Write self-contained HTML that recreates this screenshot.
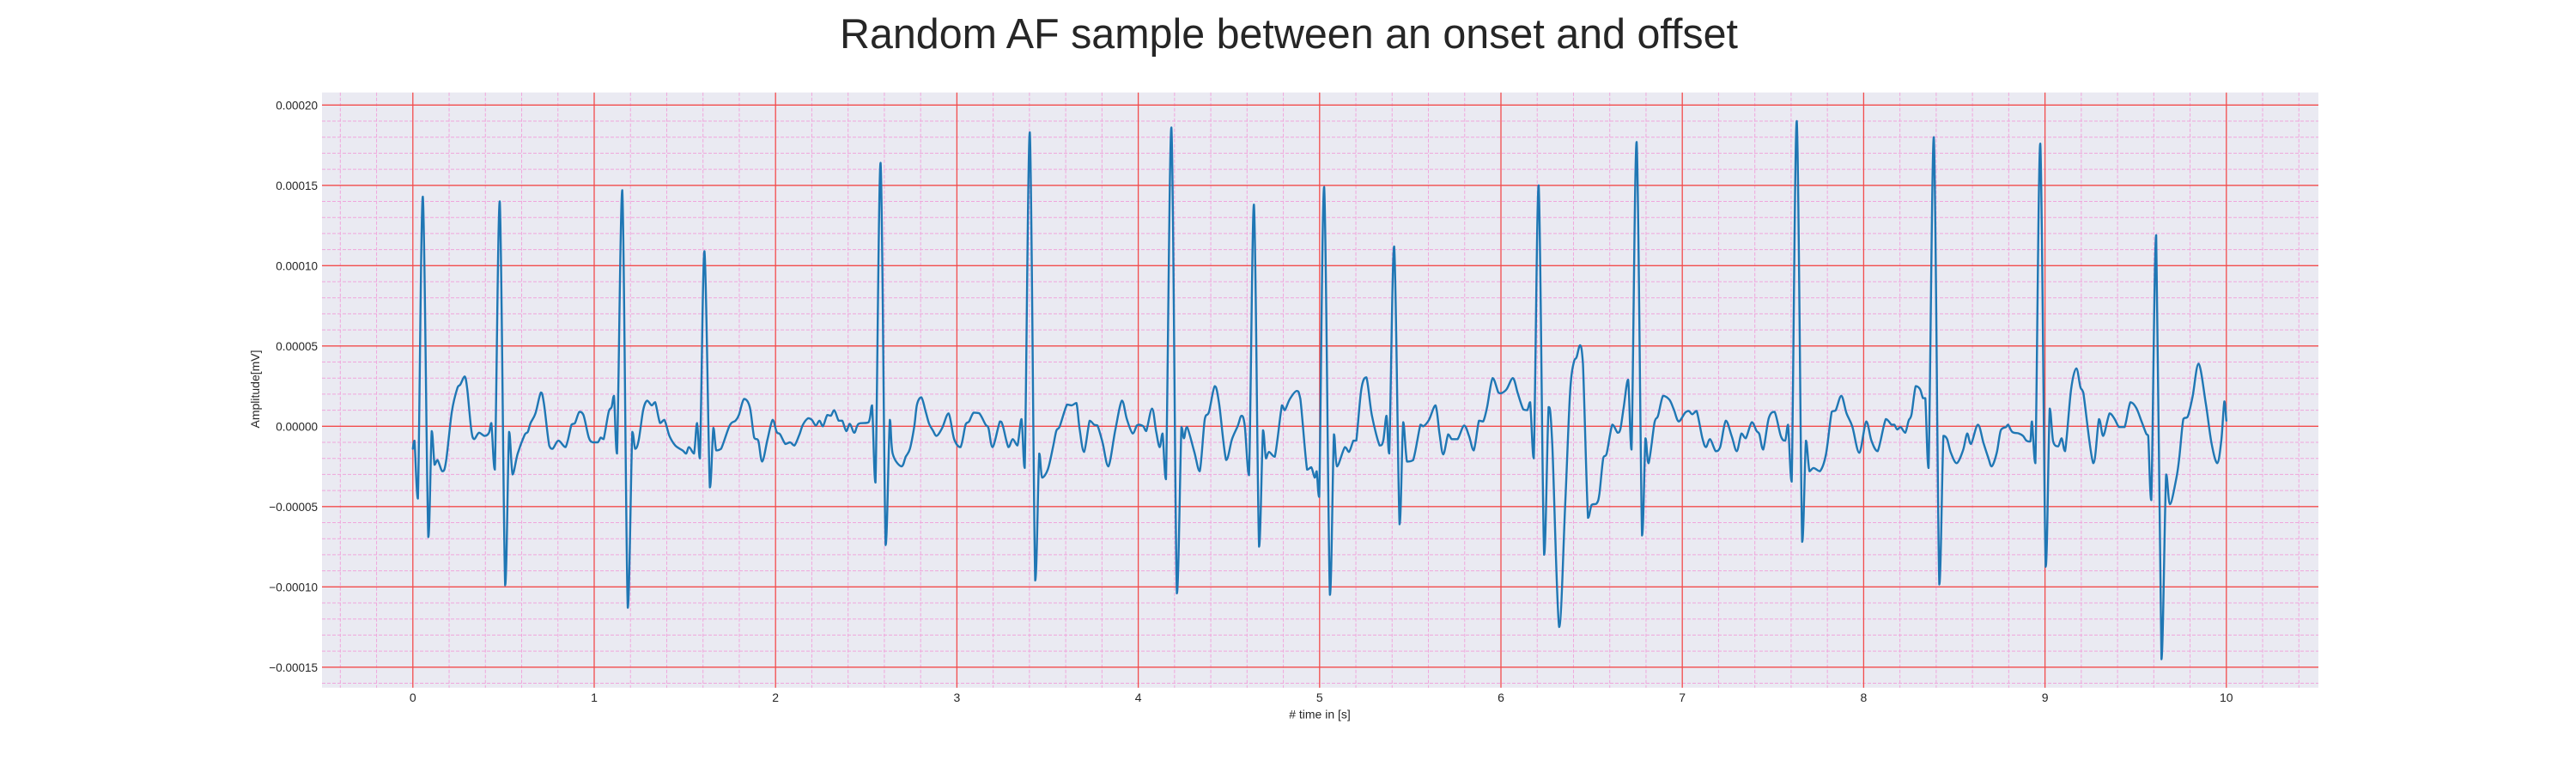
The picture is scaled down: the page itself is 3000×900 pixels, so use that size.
<!DOCTYPE html>
<html><head><meta charset="utf-8"><style>
html,body{margin:0;padding:0;background:#fff;}
svg{display:block;font-family:"Liberation Sans",sans-serif;}
</style></head><body>
<svg id="chart" width="3000" height="900" viewBox="0 0 3000 900" xmlns="http://www.w3.org/2000/svg">
<text x="1501" y="56" font-size="49" fill="#262626" text-anchor="middle" textLength="1046" lengthAdjust="spacingAndGlyphs">Random AF sample between an onset and offset</text>
<rect x="375" y="107.7" width="2325" height="693" fill="#eaeaf2"/>
<g id="grid"></g>
<g id="series"></g>
<g id="ticks"></g>
<text x="1537" y="836.5" font-size="14" fill="#262626" text-anchor="middle"># time in [s]</text>
<text x="0" y="0" font-size="14" fill="#262626" text-anchor="middle" transform="translate(302,453) rotate(-90)">Amplitude[mV]</text>
</svg>
<script>
const xTicks = [0,1,2,3,4,5,6,7,8,9,10];
const yTicks = [0.0002,0.00015,0.0001,0.00005,0,-0.00005,-0.0001,-0.00015];
const yTickLabels = ["0.00020","0.00015","0.00010","0.00005","0.00000","\u22120.00005","\u22120.00010","\u22120.00015"];
const timeS = [0,0.009,0.028,0.055,0.085,0.104,0.12,0.136,0.163,0.183,0.215,0.246,0.262,0.286,0.30,0.322,0.338,0.365,0.396,0.42,0.433,0.452,0.479,0.509,0.531,0.55,0.578,0.618,0.634,0.649,0.676,0.706,0.723,0.752,0.771,0.803,0.842,0.875,0.894,0.918,0.941,0.97,0.992,1.02,1.036,1.052,1.08,1.096,1.109,1.126,1.155,1.185,1.21,1.226,1.245,1.27,1.292,1.317,1.336,1.363,1.387,1.415,1.447,1.487,1.507,1.523,1.55,1.567,1.583,1.608,1.638,1.657,1.673,1.7,1.747,1.779,1.798,1.826,1.858,1.882,1.905,1.926,1.956,1.984,2.006,2.025,2.054,2.08,2.104,2.132,2.151,2.18,2.2,2.222,2.242,2.261,2.285,2.305,2.324,2.348,2.368,2.39,2.41,2.434,2.458,2.513,2.532,2.551,2.579,2.607,2.63,2.646,2.694,2.718,2.741,2.765,2.78,2.804,2.828,2.847,2.867,2.888,2.919,2.954,2.985,3.02,3.048,3.067,3.092,3.124,3.158,3.174,3.197,3.237,3.253,3.284,3.308,3.334,3.356,3.374,3.402,3.432,3.454,3.47,3.501,3.528,3.548,3.567,3.607,3.633,3.659,3.677,3.701,3.732,3.756,3.775,3.803,3.835,3.874,3.91,3.937,3.969,3.992,4.005,4.028,4.044,4.076,4.099,4.118,4.134,4.153,4.183,4.213,4.238,4.252,4.269,4.309,4.339,4.367,4.39,4.422,4.446,4.485,4.517,4.548,4.569,4.587,4.611,4.638,4.666,4.688,4.704,4.721,4.753,4.792,4.808,4.836,4.874,4.894,4.931,4.954,4.973,4.984,4.998,5.025,5.057,5.079,5.096,5.139,5.162,5.186,5.202,5.23,5.258,5.288,5.331,5.351,5.369,5.384,5.411,5.441,5.461,5.482,5.516,5.556,5.572,5.603,5.639,5.661,5.682,5.709,5.729,5.761,5.797,5.824,5.85,5.879,5.902,5.923,5.954,5.986,6.0,6.031,6.066,6.094,6.123,6.145,6.161,6.181,6.208,6.238,6.263,6.283,6.321,6.354,6.381,6.402,6.417,6.436,6.452,6.48,6.5,6.528,6.543,6.564,6.583,6.614,6.643,6.658,6.677,6.701,6.72,6.748,6.778,6.797,6.814,6.847,6.866,6.894,6.929,6.953,6.98,7.016,7.036,7.055,7.079,7.11,7.13,7.153,7.184,7.209,7.24,7.272,7.3,7.326,7.35,7.383,7.41,7.425,7.446,7.477,7.509,7.543,7.567,7.583,7.603,7.631,7.661,7.682,7.701,7.724,7.759,7.792,7.824,7.846,7.877,7.906,7.937,7.976,8.014,8.043,8.077,8.122,8.153,8.169,8.185,8.204,8.229,8.248,8.264,8.287,8.311,8.327,8.34,8.358,8.387,8.417,8.44,8.46,8.481,8.513,8.548,8.571,8.592,8.63,8.661,8.687,8.706,8.734,8.756,8.785,8.797,8.819,8.856,8.879,8.898,8.919,8.928,8.947,8.974,9.004,9.026,9.045,9.072,9.092,9.111,9.144,9.173,9.195,9.211,9.266,9.298,9.321,9.356,9.384,9.408,9.439,9.471,9.503,9.534,9.558,9.569,9.586,9.613,9.642,9.668,9.689,9.724,9.74,9.763,9.787,9.814,9.847,9.887,9.918,9.95,9.972,9.989,10.0];
const amplitudeE5 = [-1.4,-0.9,-4.5,14.3,-6.9,-0.3,-2.4,-2.1,-2.8,-2.2,0.9,2.4,2.6,3.1,2.3,-0.2,-0.8,-0.4,-0.6,-0.4,0.2,-2.7,14.0,-9.9,-0.35,-3.0,-1.7,-0.5,-0.35,0.2,0.8,2.1,1.4,-1.2,-1.4,-0.9,-1.3,0.1,0.2,0.9,0.7,-0.7,-1.0,-1.0,-0.7,-0.8,0.9,1.2,1.9,-1.7,14.7,-11.3,-0.35,-1.4,-0.9,1.0,1.6,1.3,1.5,0.2,0.4,-0.6,-1.2,-1.5,-1.7,-1.3,-1.7,0.2,-2.0,10.9,-3.8,-0.1,-1.5,-1.4,0.05,0.35,0.7,1.7,1.2,-0.7,-0.9,-2.2,-0.8,0.4,-0.35,-0.5,-1.1,-1.0,-1.2,-0.5,0.1,0.5,0.4,0.05,0.35,0,0.7,0.65,1.0,0.35,0.35,-0.3,0.15,-0.4,0.15,0.25,1.3,-3.5,16.4,-7.4,0.4,-1.7,-2.5,-1.9,-1.4,0,1.35,1.8,0.9,0.15,-0.25,-0.6,-0.1,0.8,-0.8,-1.3,0.1,0.3,0.85,0.8,0.1,-0.1,-1.3,0.3,0.05,-1.3,-0.8,-1.2,0.45,-2.6,18.3,-9.6,-1.7,-3.2,-2.7,-1.4,-0.3,0,1.35,1.3,1.45,-0.2,-1.6,0.35,0.1,0.05,-1.0,-2.5,-0.2,1.6,0.45,-0.45,0.05,0.1,0,-0.3,1.1,-0.35,-1.3,-0.45,-3.3,18.6,-10.4,-0.05,-0.75,-0.05,-1.6,-2.8,0.45,0.9,2.5,1.4,-2.1,-0.8,0,0.65,0.05,-3.05,13.8,-7.5,-0.25,-2.0,-1.6,-1.9,1.3,1.0,1.7,2.2,1.7,-2.7,-2.55,-3.2,-2.8,-4.4,14.9,-10.5,-0.5,-2.5,-1.3,-1.6,-0.9,-0.9,2.3,3.05,0.7,-1.2,-0.9,0.65,-1.7,11.2,-6.1,0.25,-2.2,-2.1,0.1,0,0.4,1.3,-0.45,-1.75,-0.5,-0.8,-0.8,0.05,-0.6,-1.5,0.35,0.3,1.15,3.0,2.1,2.05,2.3,3.0,2.0,1.05,1.0,1.5,-2.0,15.0,-8.0,1.2,-1.15,-12.5,-4.9,2.1,4.0,4.3,5.05,3.9,-5.7,-4.9,-4.8,-4.2,-2.0,-1.7,0.1,-0.4,-0.2,1.2,2.9,-1.45,17.7,-6.8,-0.75,-2.3,0.25,0.65,1.9,1.65,1.05,0.3,0.85,0.95,0.75,0.95,-0.7,-1.3,-0.8,-1.55,-1.3,0.35,-0.6,-1.55,-0.45,-0.75,0.25,-0.3,-0.5,-1.45,0.5,0.9,-0.6,-0.9,0.1,-3.45,19.0,-7.2,-0.9,-2.8,-2.6,-2.8,-1.75,0.9,1.0,1.9,0.8,0,-1.65,0.3,-0.9,-1.55,0.45,0.1,0.1,-0.2,-0.05,-0.4,0.35,0.75,2.5,2.3,1.75,1.75,-2.6,18.0,-9.85,-0.6,-0.8,-1.65,-2.3,-1.5,-0.45,-1.1,0.1,-1.05,-1.95,-2.5,-1.65,-0.25,-0.05,0.1,-0.35,-0.45,-0.6,-0.9,-0.95,0.3,-2.3,17.6,-8.75,1.1,-0.95,-1.25,-0.75,-1.55,2.3,3.6,2.45,2.1,-2.3,0.45,-0.6,0.8,0.45,-0.05,-0.05,1.5,1.15,0.25,-0.45,-0.6,-4.6,11.9,-14.5,-3.0,-4.85,-3.25,-2.0,0.45,0.6,1.85,3.9,1.4,-1.05,-2.3,-0.9,1.55,0.35];

const NS = "http://www.w3.org/2000/svg";
const X0 = 480.8, PXS = 211.2;
const Y0 = 496.3, PXV = 93.5 / 0.00005;
function xScale(t){ return X0 + t * PXS; }
function yScale(v){ return Y0 - v * PXV; }
function mk(tag, attrs, parent){
  const e = document.createElementNS(NS, tag);
  for (const k in attrs) e.setAttribute(k, attrs[k]);
  parent.appendChild(e);
  return e;
}
const L = 375, R = 2700, T = 107.7, B = 800.7;
const grid = document.getElementById('grid');
for (let i = -2; i <= 52; i++) {
  if (i % 5 === 0) continue;
  const x = xScale(i * 0.2);
  if (x < L || x > R) continue;
  const ln = mk('line', {x1:x, x2:x, y1:T, y2:B, stroke:'#f0a6dc', 'stroke-width':1, 'stroke-dasharray':'4,2'}, grid);
  
  
}
for (let j = -16; j <= 20; j++) {
  if (j % 5 === 0) continue;
  const y = yScale(j * 0.00001);
  if (y < T || y > B) continue;
  const ln = mk('line', {x1:L, x2:R, y1:y, y2:y, stroke:'#f0a6dc', 'stroke-width':1, 'stroke-dasharray':'4,2'}, grid);
  
  
}
const ticks = document.getElementById('ticks');
xTicks.forEach(t => {
  const x = xScale(t);
  const ln = mk('line', {x1:x, x2:x, y1:T, y2:B, stroke:'#f24c4c', 'stroke-width':1.3}, grid);
  
  
  const tx = mk('text', {x:x, y:817, 'font-size':14, fill:'#262626', 'text-anchor':'middle'}, ticks);
  tx.textContent = String(t);
  
  
});
yTicks.forEach((v, i) => {
  const y = yScale(v);
  const ln = mk('line', {x1:L, x2:R, y1:y, y2:y, stroke:'#f24c4c', 'stroke-width':1.3}, grid);
  
  
  const tx = mk('text', {x:370, y:y + 5, 'font-size':13.5, fill:'#262626', 'text-anchor':'end'}, ticks);
  tx.textContent = yTickLabels[i];
  
  
});
// smooth path (Catmull-Rom with clamped control points to avoid overshoot)
const px = timeS.map(xScale);
const py = amplitudeE5.map(v => yScale(v * 1e-5));
const n = px.length;
function clamp(v, a, b){ const lo = Math.min(a,b), hi = Math.max(a,b); return Math.max(lo, Math.min(hi, v)); }
let d = 'M' + px[0].toFixed(1) + ',' + py[0].toFixed(1);
for (let i = 0; i < n - 1; i++) {
  const i0 = Math.max(0, i - 1), i3 = Math.min(n - 1, i + 2);
  let c1x = px[i] + (px[i+1] - px[i0]) / 6;
  let c1y = py[i] + (py[i+1] - py[i0]) / 6;
  let c2x = px[i+1] - (px[i3] - px[i]) / 6;
  let c2y = py[i+1] - (py[i3] - py[i]) / 6;
  c1x = clamp(c1x, px[i], px[i+1]); c2x = clamp(c2x, px[i], px[i+1]);
  c1y = clamp(c1y, py[i], py[i+1]); c2y = clamp(c2y, py[i], py[i+1]);
  d += 'C' + c1x.toFixed(1) + ',' + c1y.toFixed(1) + ' ' + c2x.toFixed(1) + ',' + c2y.toFixed(1) + ' ' + px[i+1].toFixed(1) + ',' + py[i+1].toFixed(1);
}
const path = mk('path', {d:d, fill:'none', stroke:'#1f77b4', 'stroke-width':2.4, 'stroke-linejoin':'round', 'stroke-linecap':'round'}, document.getElementById('series'));


</script>
</body></html>
